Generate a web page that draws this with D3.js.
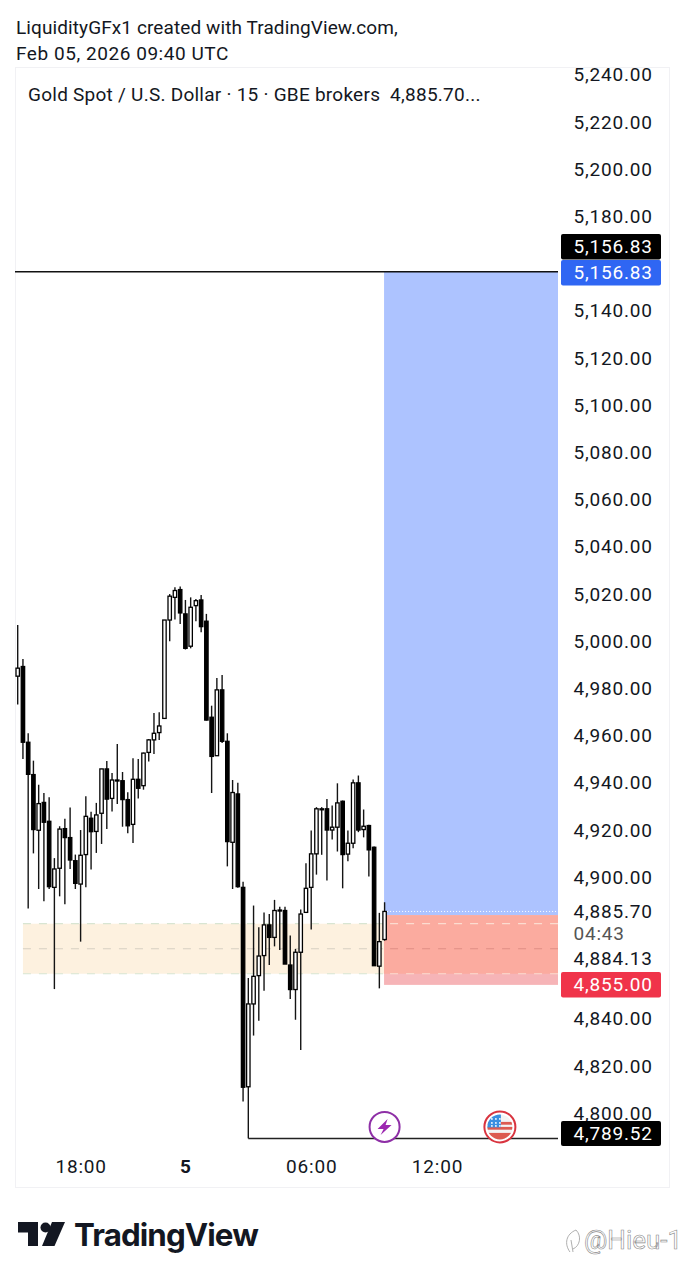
<!DOCTYPE html>
<meta charset="utf-8">
<style>

html, body {
  margin: 0;
  background: #fff;
}

text {
  font-family: Roboto, sans-serif;
  fill: #131722;
}

.axis path, .axis line {
  display: none;
}

.axis text {
  font-family: Roboto, sans-serif;
  font-size: 19px;
  letter-spacing: 0.8px;
  fill: #131722;
}

</style>
<body>
<script src="https://d3js.org/d3.v7.min.js"></script>
<script>

var width = 684,
    height = 1280;

// 15 min candles
var opens = [4985.4, 4989.5, 4957.4, 4943.7, 4920.1, 4931.9, 4923.9, 4895.9, 4904.0, 4920.8,
  4917.0, 4907.2, 4897.3, 4909.8, 4925.2, 4919.6, 4927.3, 4946.1, 4933.6, 4941.1,
  4941.1, 4933.1, 4922.6, 4941.7, 4939.0, 4953.1, 4958.4, 4961.5, 4967.5, 5009.2,
  5018.8, 5022.1, 5011.8, 4998.1, 5015.3, 5017.7, 5008.7, 4968.0, 4951.7, 4979.6,
  4957.8, 4915.0, 4935.5, 4895.9, 4811.4, 4846.5, 4858.5, 4867.0, 4880.0, 4874.7,
  4886.1, 4886.1, 4863.0, 4852.6, 4868.4, 4885.3, 4895.9, 4910.1, 4928.9, 4929.2,
  4920.2, 4921.4, 4932.4, 4910.0, 4914.6, 4940.2, 4920.4, 4922.1, 4912.9, 4862.5,
  4873.8];
var highs = [5007.1, 4992.7, 4961.2, 4949.6, 4939.4, 4935.9, 4934.1, 4908.3, 4921.8, 4925.0,
  4929.8, 4909.8, 4920.2, 4934.5, 4928.0, 4931.7, 4946.1, 4949.5, 4944.4, 4956.7,
  4944.8, 4936.2, 4950.6, 4950.3, 4953.0, 4958.8, 4969.8, 4970.1, 5009.2, 5020.2,
  5023.1, 5023.4, 5017.7, 5018.8, 5018.1, 5019.8, 5011.8, 4972.9, 4984.6, 4985.9,
  4961.2, 4941.4, 4940.2, 4898.3, 4857.5, 4888.2, 4879.0, 4885.3, 4884.6, 4890.6,
  4887.7, 4887.7, 4875.5, 4869.8, 4886.5, 4906.1, 4920.0, 4929.9, 4929.9, 4933.4,
  4930.6, 4940.0, 4932.7, 4920.0, 4941.6, 4943.3, 4928.9, 4922.4, 4913.2, 4885.1,
  4889.6];
var lows = [4973.4, 4950.3, 4887.0, 4910.3, 4895.2, 4890.0, 4895.2, 4852.8, 4892.1, 4888.8,
  4903.7, 4895.2, 4872.9, 4895.9, 4903.5, 4910.5, 4914.3, 4920.6, 4928.1, 4931.2,
  4921.6, 4918.8, 4914.7, 4933.6, 4937.3, 4949.2, 4952.4, 4958.4, 4967.5, 5000.2,
  5009.4, 5007.5, 4996.7, 4997.2, 5008.7, 5004.0, 4966.6, 4935.9, 4951.7, 4957.1,
  4904.8, 4895.2, 4895.7, 4805.2, 4789.52, 4833.1, 4839.4, 4852.1, 4863.0, 4870.9,
  4869.4, 4863.4, 4848.6, 4839.8, 4827.0, 4885.3, 4878.0, 4901.3, 4909.7, 4898.8,
  4916.2, 4911.1, 4895.5, 4907.0, 4912.5, 4919.3, 4917.1, 4900.5, 4862.7, 4853.1,
  4873.3];
var closes = [4988.8, 4957.4, 4943.8, 4920.4, 4931.4, 4923.5, 4896.2, 4903.7, 4920.6, 4917.0,
  4907.5, 4897.6, 4909.5, 4926.0, 4919.5, 4926.6, 4946.1, 4933.3, 4941.4, 4941.4,
  4933.1, 4922.0, 4941.7, 4937.9, 4952.8, 4958.4, 4961.2, 4964.3, 5009.2, 5019.3,
  5021.7, 5012.2, 4997.2, 5014.6, 5017.4, 5006.4, 4966.8, 4951.4, 4979.6, 4957.8,
  4915.3, 4936.1, 4896.2, 4811.2, 4846.5, 4858.2, 4866.8, 4880.0, 4874.7, 4886.1,
  4886.3, 4863.4, 4852.6, 4868.4, 4884.6, 4895.5, 4910.1, 4929.2, 4929.2, 4920.2,
  4921.4, 4931.7, 4909.8, 4914.6, 4940.2, 4920.2, 4921.8, 4911.8, 4862.7, 4872.9,
  4885.7];

var priceTicks = [5240, 5220, 5200, 5180, 5140, 5120, 5100, 5080, 5060, 5040, 5020, 5000,
  4980, 4960, 4940, 4920, 4900, 4840, 4820, 4800];
var timeTicks = [12, 32, 56, 80];
var timeLabels = ["18:00", "5", "06:00", "12:00"];

var target = 5156.83,
    entry = 4884.13,
    stop = 4855,
    last = 4885.7,
    swingLow = 4789.52,
    zoneTop = 4880.5,
    zoneMid = 4869.9,
    zoneBottom = 4859.3,
    entryBar = 69.9,
    zoneBar = 1,
    swingBar = 44,
    boltBar = 70,
    flagBar = 92;

var chartLeft = 15,
    chartRight = 558;

var svg = d3.select("body").append("svg")
    .attr("width", width)
    .attr("height", height)
    .style("display", "block");

var x = d3.scaleLinear()
    .domain([0, 80])
    .range([17.7, 437]);

var y = d3.scaleLinear()
    .domain([5240, swingLow])
    .range([75.4, 1138.4]);

var fmt = d3.format(",.2f");

// frame
svg.append("rect")
    .attr("x", 15.5)
    .attr("y", 67.5)
    .attr("width", 654)
    .attr("height", 1120)
    .attr("fill", "none")
    .attr("stroke", "#f1f1f4");

// header
svg.append("text").attr("x", 16).attr("y", 34)
    .style("font-size", "19px")
    .style("letter-spacing", "0.1px")
    .text("LiquidityGFx1 created with TradingView.com,");
svg.append("text").attr("x", 16).attr("y", 59.5)
    .style("font-size", "19px")
    .style("letter-spacing", "0.55px")
    .text("Feb 05, 2026 09:40 UTC");
svg.append("text").attr("x", 28).attr("y", 100.5)
    .style("font-size", "19px")
    .style("letter-spacing", "0.25px")
    .style("white-space", "pre")
    .text("Gold Spot / U.S. Dollar · 15 · GBE brokers  4,885.70...");

// demand zone
var zone = svg.append("g");
zone.append("rect")
    .attr("x", x(zoneBar))
    .attr("y", y(zoneTop))
    .attr("width", chartRight - x(zoneBar))
    .attr("height", y(zoneBottom) - y(zoneTop))
    .attr("fill", "#fdf1df");
zone.selectAll("line")
    .data([zoneTop, zoneMid, zoneBottom])
  .enter().append("line")
    .attr("x1", x(zoneBar))
    .attr("x2", x(entryBar))
    .attr("y1", y)
    .attr("y2", y)
    .attr("stroke", function(d) { return d === zoneMid ? "#d6cfc2" : "#d8e5d2"; })
    .attr("stroke-width", 1.2)
    .attr("stroke-dasharray", "8,8");

// long position boxes
svg.append("rect")
    .attr("x", x(entryBar))
    .attr("y", y(target))
    .attr("width", chartRight - x(entryBar))
    .attr("height", y(entry) - y(target))
    .attr("fill", "#adc3ff");
svg.append("rect")
    .attr("x", x(entryBar))
    .attr("y", y(entry))
    .attr("width", chartRight - x(entryBar))
    .attr("height", y(stop) - y(entry) + 1)
    .attr("fill", "#f6b4b7");
svg.append("rect")
    .attr("x", x(entryBar))
    .attr("y", y(entry))
    .attr("width", chartRight - x(entryBar))
    .attr("height", y(zoneBottom) - y(entry))
    .attr("fill", "#fbab9f");

var overlay = svg.append("g");
overlay.selectAll("line")
    .data([zoneTop, zoneMid, zoneBottom])
  .enter().append("line")
    .attr("x1", x(entryBar) + 6)
    .attr("x2", chartRight)
    .attr("y1", y)
    .attr("y2", y)
    .attr("stroke", function(d) { return d === zoneMid ? "#e08f85" : "#fbdcd0"; })
    .attr("stroke-width", 1.2)
    .attr("stroke-dasharray", "8,8");

// last price line
svg.append("line")
    .attr("x1", x(entryBar))
    .attr("x2", chartRight)
    .attr("y1", y(last))
    .attr("y2", y(last))
    .attr("stroke", "#fff")
    .attr("stroke-width", 1)
    .attr("stroke-dasharray", "1,2");

// target line and swing low
svg.append("line")
    .attr("x1", chartLeft)
    .attr("x2", chartRight)
    .attr("y1", y(target))
    .attr("y2", y(target))
    .attr("stroke", "#111")
    .attr("stroke-width", 1.5);
svg.append("line")
    .attr("x1", x(swingBar))
    .attr("x2", chartRight)
    .attr("y1", y(swingLow))
    .attr("y2", y(swingLow))
    .attr("stroke", "#222")
    .attr("stroke-width", 1.5);

// candles
var candles = svg.append("g").selectAll("g")
    .data(d3.range(opens.length))
  .enter().append("g");

candles.append("line")
    .attr("x1", x)
    .attr("x2", x)
    .attr("y1", function(i) { return y(highs[i]); })
    .attr("y2", function(i) { return y(lows[i]); })
    .attr("stroke", "#141414")
    .attr("stroke-width", 1.4);

candles.append("rect")
    .attr("x", function(i) { return x(i) - 1.7; })
    .attr("width", 3.4)
    .attr("y", function(i) { return y(Math.max(opens[i], closes[i])); })
    .attr("height", function(i) { return Math.max(1, Math.abs(y(opens[i]) - y(closes[i]))); })
    .attr("fill", function(i) { return closes[i] >= opens[i] ? "#fff" : "#000"; })
    .attr("stroke", "#000")
    .attr("stroke-width", 1.3);

// price axis
svg.append("g")
    .attr("class", "axis")
    .attr("transform", "translate(573.5,-0.5)")
    .call(d3.axisRight(y).tickValues(priceTicks).tickSize(0).tickPadding(0).tickFormat(fmt))
    .selectAll("text")
    .attr("x", 0);

// extra price labels
function tag(value, bg, top, h) {
  svg.append("rect")
      .attr("x", 561)
      .attr("y", top)
      .attr("width", 100)
      .attr("height", h)
      .attr("rx", 2)
      .attr("fill", bg);
  svg.append("text")
      .attr("x", 573.5)
      .attr("y", top + h / 2 - 0.5)
      .attr("dy", "0.35em")
      .style("font-size", "19px")
      .style("letter-spacing", "0.8px")
      .style("fill", "#fff")
      .text(fmt(value));
}
tag(target, "#000", 234, 25.5);
tag(target, "#2f66f3", 260, 25.5);
tag(stop, "#f0344a", 972, 25.5);
tag(swingLow, "#000", 1121, 25);

function plain(label, top, color) {
  svg.append("text")
      .attr("x", 573.5)
      .attr("y", top)
      .attr("dy", "0.35em")
      .style("font-size", "19px")
      .style("letter-spacing", "0.8px")
      .style("fill", color)
      .text(label);
}
plain(fmt(last), 911, "#131722");
plain("04:43", 933, "#555");
plain(fmt(entry), 958, "#131722");

// time axis
svg.append("g")
    .attr("class", "axis")
    .attr("transform", "translate(0,1157)")
    .call(d3.axisBottom(x).tickValues(timeTicks).tickSize(0).tickPadding(0)
        .tickFormat(function(d, i) { return timeLabels[i]; }))
    .selectAll("text")
    .attr("y", 2)
    .style("font-weight", function(d, i) { return timeLabels[i] === "5" ? 700 : 400; });

// event icons
var iconY = y(swingLow) - 11.5;

var bolt = svg.append("g")
    .attr("transform", "translate(" + x(boltBar) + "," + iconY + ")");
bolt.append("circle").attr("r", 15).attr("fill", "#fff")
    .attr("stroke", "#8e2fa6").attr("stroke-width", 2);
bolt.append("path")
    .attr("d", "M3,-8 L-7,2 H-1 L-4,8 L7,-2 H1 Z")
    .attr("fill", "#9c27b0");

var flag = svg.append("g")
    .attr("transform", "translate(" + x(flagBar) + "," + iconY + ")");
flag.append("circle").attr("r", 15.5).attr("fill", "#fff")
    .attr("stroke", "#d9343f").attr("stroke-width", 2);
flag.append("clipPath").attr("id", "flag-clip")
  .append("circle").attr("r", 12.5);
var flagInner = flag.append("g").attr("clip-path", "url(#flag-clip)");
flagInner.append("rect").attr("x", -13).attr("y", -13).attr("width", 26).attr("height", 26).attr("fill", "#f3f3f3");
flagInner.selectAll(".stripe")
    .data([-5, 0, 6])
  .enter().append("rect")
    .attr("class", "stripe")
    .attr("x", -13)
    .attr("y", function(d) { return d; })
    .attr("width", 26)
    .attr("height", function(d) { return d === 6 ? 8 : 2.8; })
    .attr("fill", "#dc5a50");
flagInner.append("rect").attr("x", -13).attr("y", -13).attr("width", 14).attr("height", 13.5).attr("fill", "#3a8fe0");
flagInner.selectAll(".star")
    .data(d3.cross([-8, -4, 0], [-8, -4, -1]))
  .enter().append("circle")
    .attr("class", "star")
    .attr("cx", function(d) { return d[0]; })
    .attr("cy", function(d) { return d[1]; })
    .attr("r", 0.9)
    .attr("fill", "#fff");

// logo
var logo = svg.append("g").attr("fill", "#131722");
logo.append("path").attr("d", "M18,1222 H38 V1246 H28 V1232.5 H18 Z");
logo.append("circle").attr("cx", 45.5).attr("cy", 1227.5).attr("r", 5);
logo.append("path").attr("d", "M52,1222 H65 L54.5,1246 H42 Z");
svg.append("text")
    .attr("x", 74)
    .attr("y", 1246)
    .style("font-family", "Inter, sans-serif")
    .style("font-weight", 700)
    .style("font-size", "31.3px")
    .style("letter-spacing", "-0.9px")
    .text("TradingView");

// watermark
svg.append("path")
    .attr("d", "M570,1252 C564,1244 566,1234 576,1230 C582,1236 580,1246 573,1249 M571,1240 L573,1252")
    .attr("fill", "none")
    .attr("stroke", "#9a9a9a")
    .attr("stroke-width", 0.8);
svg.append("text")
    .attr("x", 584)
    .attr("y", 1249)
    .style("font-size", "26px")
    .style("fill", "#fff")
    .style("stroke", "#8a8a8a")
    .style("stroke-width", 0.6)
    .text("@Hieu-1");

</script>
